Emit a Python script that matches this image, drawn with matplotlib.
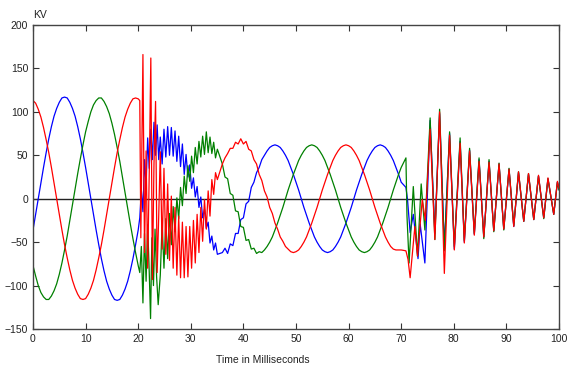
import matplotlib.pyplot as plt

# values (kV vs ms)

# pre-fault, 0.5 ms samples
t_pre = [0, 0.5, 1, 1.5, 2, 2.5, 3, 3.5, 4, 4.5, 5, 5.5, 6, 6.5, 7, 7.5, 8, 8.5, 9, 9.5,
         10, 10.5, 11, 11.5, 12, 12.5, 13, 13.5, 14, 14.5, 15, 15.5, 16, 16.5, 17, 17.5,
         18, 18.5, 19, 19.5, 20]
red_pre = [113, 110, 103, 94, 82, 68, 53, 36, 18, 0, -18, -36, -53, -68, -82, -94, -103, -110, -115, -116,
           -115, -110, -103, -94, -82, -68, -53, -36, -18, 0, 18, 36, 53, 68, 82, 94,
           103, 110, 115, 116, 115]
blue_pre = [-36, -18, 0, 18, 36, 53, 69, 83, 95, 104, 111, 116, 117, 116, 111, 104, 95, 83, 69, 53,
            36, 18, 0, -18, -36, -53, -69, -83, -95, -104, -111, -116, -117, -116, -111, -104,
            -95, -83, -69, -53, -36]
green_pre = [-77, -89, -100, -108, -113, -116, -116, -112, -106, -98, -87, -74, -59, -43, -25, -7, 11, 29, 46, 62,
             77, 89, 100, 108, 113, 116, 116, 112, 106, 98, 87, 74, 59, 43, 25, 7,
             -11, -29, -46, -62, -77]

# fault inception
t_red_hit = [20.3, 20.5, 20.9, 21.2, 21.5, 21.8, 22.1, 22.4, 22.7, 23.0, 23.3, 23.6, 23.9]
red_hit = [113, -45, 166, -62, 55, -80, 30, 162, -93, 40, 112, -85, -20]
t_green_hit = [20.3, 20.6, 20.9, 21.2, 21.5, 21.8, 22.1, 22.35, 22.6, 22.9, 23.2, 23.5, 23.8]
green_hit = [-85, -55, -120, -40, -95, -30, -85, -138, -45, -100, -35, -90, -122]
t_blue_hit = [20.3, 20.6, 20.9, 21.2, 21.5, 21.8, 22.1, 22.4, 22.7, 23.0, 23.3, 23.6, 23.9]
blue_hit = [-22, 10, -15, 45, 15, 70, 35, 80, 45, 88, 50, 85, 45]

# fault with high frequency ripple
t_fault = [24.2, 24.55, 24.9, 25.25, 25.6, 25.95, 26.3, 26.65, 27.0, 27.35, 27.7, 28.05,
           28.4, 28.75, 29.1, 29.45, 29.8, 30.15, 30.5, 30.85, 31.2, 31.55, 31.9, 32.25,
           32.6, 32.95, 33.3, 33.65, 34.0, 34.35, 34.7, 35.05]
red_fault = [54, -58, 35, -64, 17, -71, 3, -80, -10, -88, -20, -91,
             -27, -91, -32, -90, -32, -80, -25, -74, -18, -62, -10, -49,
             -1, -35, 9, -20, 22, 5, 30, 22]
blue_fault = [71, 40, 80, 48, 83, 50, 82, 49, 78, 43, 72, 37,
              63, 28, 51, 25, 39, 12, 24, 2, 14, -10, 2, -22,
              -12, -34, -27, -51, -43, -59, -51, -64]
green_fault = [-88, -28, -80, -23, -69, -17, -53, -9, -38, 1, -23, 13,
               -8, 26, 6, 38, 20, 49, 30, 59, 40, 66, 48, 72,
               51, 77, 53, 71, 52, 65, 47, 57]

# after the transient, 0.5 ms samples
t_post = [36, 36.5, 37, 37.5, 38, 38.5, 39, 39.5, 40, 40.5, 41, 41.5, 42, 42.5, 43, 43.5,
          44, 44.5, 45, 45.5, 46, 46.5, 47, 47.5, 48, 48.5, 49, 49.5, 50, 50.5, 51, 51.5,
          52, 52.5, 53, 53.5, 54, 54.5, 55, 55.5, 56, 56.5, 57, 57.5, 58, 58.5, 59, 59.5,
          60, 60.5, 61, 61.5, 62, 62.5, 63, 63.5, 64, 64.5, 65, 65.5, 66, 66.5, 67, 67.5,
          68, 68.5, 69, 69.5, 70]
red_post = [40, 47, 52, 58, 58, 65, 63, 69, 63, 66, 57, 55, 45, 40, 28, 21,
            9, 2, -10, -17, -28, -35, -44, -49, -55, -58, -61, -62, -61, -59, -55, -50,
            -44, -36, -28, -19, -10, 0, 10, 19, 28, 36, 44, 50, 55, 59, 61, 62,
            61, 59, 55, 50, 44, 36, 28, 19, 10, 0, -10, -19, -28, -36, -44, -50,
            -55, -58, -59, -59, -59]
blue_post = [-62, -57, -63, -52, -54, -40, -40, -24, -22, -6, -3, 13, 19, 30, 36, 45,
             50, 55, 59, 61, 62, 61, 59, 55, 50, 44, 36, 28, 19, 10, 0, -10,
             -19, -28, -36, -44, -50, -55, -59, -61, -62, -61, -59, -55, -50, -44, -36, -28,
             -19, -10, 0, 10, 19, 28, 36, 44, 50, 55, 59, 61, 62, 61, 59, 55,
             50, 44, 36, 28, 19]
green_post = [40, 25, 23, 6, 4, -14, -15, -32, -33, -48, -47, -58, -57, -63, -61, -62,
              -59, -55, -50, -44, -36, -28, -19, -10, 0, 10, 19, 28, 36, 44, 50, 55,
              59, 61, 62, 61, 59, 55, 50, 44, 36, 28, 19, 10, 0, -10, -19, -28,
              -36, -44, -50, -55, -59, -61, -62, -61, -59, -55, -50, -44, -36, -28, -19, -10,
              0, 10, 19, 28, 36]

# breaker trip
t_red_trip = [70.9, 71.3, 71.7, 72.6, 73.1, 74.0, 74.6]
red_trip = [-60, -70, -91, -32, -66, -1, -25]
t_green_trip = [70.9, 71.1, 71.5, 72.3, 73.1, 73.8, 74.5]
green_trip = [47, -20, -74, 14, -66, 17, -36]
t_blue_trip = [70.9, 71.2, 71.7, 72.3, 73.2, 73.6, 74.5]
blue_trip = [13, -1, -39, -18, -69, -29, -74]

# ringing after trip
t_tail = [75.5, 76.4, 77.3, 78.2, 79.2, 80.1, 81.2, 82.0, 83.0, 83.9, 84.8, 85.7, 86.7, 87.6,
          88.6, 89.5, 90.5, 91.4, 92.3, 93.3, 94.2, 95.2, 96.1, 97.1, 97.9, 99.0, 99.7, 100.0]
red_tail = [80, -47, 100, -86, 73, -59, 64, -51, 55, -42, 43, -44, 42, -37,
            40, -35, 34, -32, 31, -26, 29, -24, 27, -22, 24, -18, 20, 12]
green_tail = [93, -47, 103, -60, 77, -55, 70, -48, 58, -40, 47, -46, 45, -38,
              41, -36, 35, -31, 31, -26, 29, -24, 26, -23, 23, -18, 19, 10]
blue_tail = [90, -40, 98, -55, 75, -58, 66, -50, 56, -41, 45, -44, 43, -37,
             40, -35, 34, -32, 30, -26, 28, -24, 26, -22, 23, -18, 19, 11]


def main():
    plt.rcParams['font.family'] = ['Liberation Sans', 'DejaVu Sans']
    fig = plt.figure(figsize=(5.67, 3.69), dpi=100)
    ax = fig.add_axes([33 / 567, 40 / 369, 526 / 567, 304 / 369])

    phases = [
        ('#0000ff', t_blue_hit, t_blue_trip,
         [blue_pre, blue_hit, blue_fault, blue_post, blue_trip, blue_tail]),
        ('#008000', t_green_hit, t_green_trip,
         [green_pre, green_hit, green_fault, green_post, green_trip, green_tail]),
        ('#ff0000', t_red_hit, t_red_trip,
         [red_pre, red_hit, red_fault, red_post, red_trip, red_tail]),
    ]
    for color, t_hit, t_trip, parts in phases:
        t = t_pre + t_hit + t_fault + t_post + t_trip + t_tail
        v = [x for p in parts for x in p]
        ax.plot(t, v, color=color, lw=0.9)

    ax.axhline(0, color='#222222', lw=1.0, zorder=1)

    ax.set_xlim(0, 100)
    ax.set_ylim(-150, 200)
    ax.set_xticks(range(0, 101, 10))
    ax.set_yticks(range(-150, 201, 50))
    ax.tick_params(direction='in', top=True, right=True, length=4, width=0.8,
                   labelsize=7.5, colors='#333333', labelcolor='#222222')
    for s in ax.spines.values():
        s.set_color('#444444')
        s.set_linewidth(1.0)

    fig.text(33 / 567, 1 - 15 / 369, 'KV', fontsize=7.5, va='center', ha='left', color='#222222')
    fig.text(263 / 567, 1 - 360 / 369, 'Time in Milliseconds', fontsize=7.5,
             va='center', ha='center', color='#222222')

    fig.savefig('out.png', dpi=100)


if __name__ == '__main__':
    main()
